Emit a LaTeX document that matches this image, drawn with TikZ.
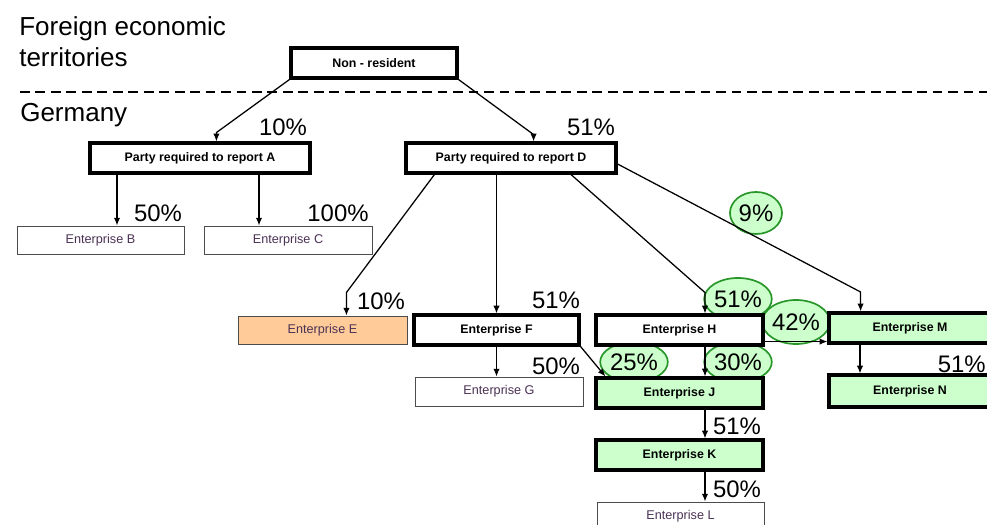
\documentclass[tikz,border=0pt]{standalone}
\usepackage{fontspec}
\setmainfont{Liberation Sans}
\usetikzlibrary{arrows.meta, shapes.geometric, calc}

\definecolor{boxgreen}{RGB}{204,255,204}
\definecolor{boxorange}{RGB}{255,204,153}
\definecolor{ringgreen}{RGB}{40,150,40}
\definecolor{thintext}{RGB}{75,50,85}

\begin{document}
\begin{tikzpicture}[x=0.025cm, y=-0.025cm,
  heavy/.style={draw, line width=2.2pt, fill=white, font=\fontsize{8.8}{10}\selectfont\bfseries, inner sep=0pt},
  light/.style={draw=black!70, line width=0.6pt, fill=white, text=thintext, font=\fontsize{9}{10}\selectfont, inner sep=0pt},
  share/.style={font=\fontsize{17}{20}\selectfont, inner sep=0pt},
  ring/.style={ellipse, draw=ringgreen, line width=1.2pt, fill=boxgreen, font=\fontsize{17}{20}\selectfont, inner sep=0pt},
  arr/.style={-{Latex[length=5.5pt, width=4.5pt]}, line width=0.9pt}]

  \useasboundingbox (0,0) rectangle (987,525);

  % regions
  \node[anchor=north west, align=left, font=\fontsize{18.5}{22}\selectfont, inner sep=0pt] (foreign) at (19,16) {Foreign economic\\territories};
  \node[anchor=north west, font=\fontsize{18.5}{22}\selectfont, inner sep=0pt] (germany) at (20,103) {Germany};
  \draw[dashed, dash pattern=on 7pt off 4pt, line width=0.8pt] (20,92) -- (987,92);

  % green rings (behind the boxes)
  \node[ring, minimum width=1.3cm, minimum height=1.05cm] (r9) at (756,213) {9\%};
  \node[ring, minimum width=1.65cm, minimum height=1.05cm] (r51) at (738,299) {51\%};
  \node[ring, minimum width=1.55cm, minimum height=1.1cm] (r42) at (796,322) {42\%};
  \node[ring, minimum width=1.65cm, minimum height=1cm] (r25) at (634,362) {25\%};
  \node[ring, minimum width=1.65cm, minimum height=1cm] (r30) at (738,362) {30\%};

  % boxes
  \node[heavy, minimum width=4.15cm, minimum height=0.75cm] (nonres) at (374,63) {Non - resident};
  \node[heavy, minimum width=5.5cm, minimum height=0.75cm] (partyA) at (200,158) {Party required to report A};
  \node[heavy, minimum width=5.25cm, minimum height=0.75cm] (partyD) at (511,158) {Party required to report D};

  \node[light, minimum width=4.175cm, minimum height=0.7cm] (entB) at (100.5,240) {Enterprise B};
  \node[light, minimum width=4.2cm, minimum height=0.7cm] (entC) at (288,240) {Enterprise C};
  \node[light, fill=boxorange, minimum width=4.225cm, minimum height=0.7cm] (entE) at (322.5,330) {Enterprise E};
  \node[heavy, minimum width=4.125cm, minimum height=0.75cm] (entF) at (496.5,330) {Enterprise F};
  \node[light, minimum width=4.2cm, minimum height=0.725cm] (entG) at (499,391.5) {Enterprise G};
  \node[heavy, minimum width=4.175cm, minimum height=0.75cm] (entH) at (679.5,330) {Enterprise H};
  \node[heavy, fill=boxgreen, minimum width=4.175cm, minimum height=0.75cm] (entJ) at (679.5,393) {Enterprise J};
  \node[heavy, fill=boxgreen, minimum width=4.175cm, minimum height=0.75cm] (entK) at (679.5,455) {Enterprise K};
  \node[light, minimum width=4.175cm, minimum height=0.7cm] (entL) at (680.5,516) {Enterprise L};
  \node[heavy, fill=boxgreen, minimum width=4.05cm, minimum height=0.75cm] (entM) at (910,328) {Enterprise M};
  \node[heavy, fill=boxgreen, minimum width=4.05cm, minimum height=0.8cm] (entN) at (910,391) {Enterprise N};

  % shares
  \node[share] (pA) at (283,127) {10\%};
  \node[share] (pD) at (591,127) {51\%};
  \node[share] (pB) at (158,213) {50\%};
  \node[share] (pC) at (338,213) {100\%};
  \node[share] (pE) at (381,301) {10\%};
  \node[share] (pF) at (556,300) {51\%};
  \node[share] (pG) at (556,366) {50\%};
  \node[share] (pK) at (737,426) {51\%};
  \node[share] (pL) at (737,489) {50\%};
  \node[share, anchor=east] (pN) at (986,364) {51\%};

  % holdings
  \draw[arr] (nonres.south west) -- ++(-73,53) coordinate (ka) -- (ka |- partyA.north);
  \draw[arr] (nonres.south east) -- ++(75,55) coordinate (kd) -- (kd |- partyD.north);

  \draw[arr] (partyA.south -| 117,0) -- (entB.north -| 117,0);
  \draw[arr] (partyA.south -| 259,0) -- (entC.north -| 259,0);

  \draw[arr] ($(partyD.south west)+(30,0)$) -- ++(-88,118) coordinate (ke) -- (ke |- entE.north);
  \draw[arr] (partyD.south -| entF.north) -- (entF.north);
  \draw[arr] ($(partyD.south)+(60,0)$) -- ++(134,118) coordinate (kh) -- (kh |- entH.north);
  \draw[arr] ($(partyD.east)+(0,6)$) -- ++(243,128) coordinate (km) -- (km |- entM.north);

  \draw[arr] (entF.south) -- (entF.south |- entG.north);
  \draw[arr] (entF.south east) -- ($(entJ.north west)+(11,0)$);
  \draw[arr] (entH.south -| 705,0) -- (entJ.north -| 705,0);
  \draw[arr] (entH.south east) ++(0,-5) coordinate (hm) -- (hm -| entM.west);
  \draw[arr] (entM.south -| 860,0) -- (entN.north -| 860,0);
  \draw[arr] (entJ.south -| 705,0) -- (entK.north -| 705,0);
  \draw[arr] (entK.south -| 705,0) -- (entL.north -| 705,0);
\end{tikzpicture}
\end{document}
